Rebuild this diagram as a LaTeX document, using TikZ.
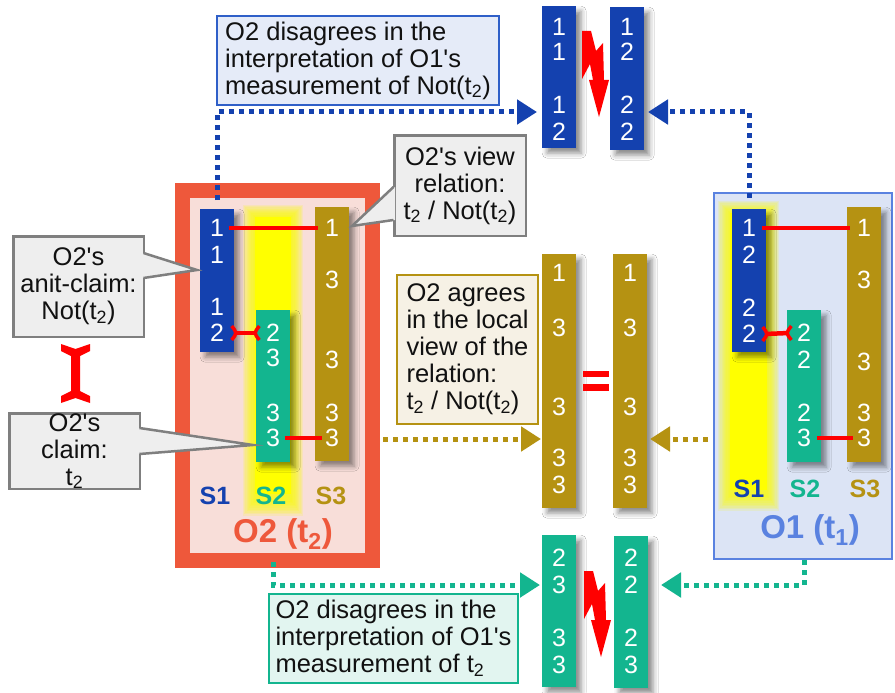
\documentclass[tikz,border=0pt]{standalone}
\usepackage{fontspec}
\setmainfont{Liberation Sans}
\usetikzlibrary{arrows.meta,shadows.blur}
\definecolor{cblue}{HTML}{1441AF}
\definecolor{cteal}{HTML}{13B58F}
\definecolor{cgold}{HTML}{B59212}
\definecolor{o2red}{HTML}{EE583B}
\definecolor{o2pink}{HTML}{F8DED9}
\definecolor{o1fill}{HTML}{DCE4F5}
\definecolor{o1line}{HTML}{5A82E0}
\definecolor{bluebox}{HTML}{E5EBF8}
\definecolor{blueboxline}{HTML}{2F5FC8}
\definecolor{tealbox}{HTML}{E2F5F0}
\definecolor{goldbox}{HTML}{F6F1E5}
\definecolor{graybox}{HTML}{EEEEEE}
\definecolor{grayline}{HTML}{7F7F7F}
\definecolor{cred}{HTML}{FF0000}
\definecolor{cyellow}{HTML}{FFFF00}
\definecolor{txtc}{HTML}{111111}
\newcommand\tsub[1]{\textsubscript{#1}}
\newcommand\aq{\textquotesingle}
\newcommand\colnums[3]{\foreach \yy/\dd [count=\k] in {#3} {\node[digit] (#1d\k) at (#2,\yy) {\dd};}}
\newcommand\brline[2]{%
  \draw[redline] (#1) -- (#2);
  \draw[bracketmark] ([shift={(-2.5,-7)}]#1) .. controls ([shift={(3,0)}]#1) .. ([shift={(-2.5,7)}]#1);
  \draw[bracketmark] ([shift={(2.5,-7)}]#2) .. controls ([shift={(-3,0)}]#2) .. ([shift={(2.5,7)}]#2);}
\tikzset{
  col/.style={anchor=north west, inner sep=0pt, minimum width=34pt, fill=#1,
    blur shadow={shadow xshift=5pt, shadow yshift=-5pt, shadow blur radius=5pt, shadow opacity=45}},
  digit/.style={text=white, font=\fontsize{25}{25}\selectfont, inner sep=0pt},
  box/.style={anchor=north west, inner sep=0pt, line width=2pt, font=\fontsize{25.5}{27}\selectfont, text=txtc},
  redline/.style={draw=cred, line width=4.5pt},
  bracketmark/.style={draw=cred, line width=3.5pt},
  dotline/.style={line width=5pt, dash pattern=on 5pt off 5pt, -{Triangle[length=20pt,width=24pt]}},
  slabel/.style={anchor=base, font=\fontsize{25}{25}\selectfont\bfseries, inner sep=0pt},
  olabel/.style={anchor=base, font=\fontsize{33}{33}\selectfont\bfseries, inner sep=0pt},
}
\begin{document}
\begin{tikzpicture}[x=1pt,y=-1pt]
\useasboundingbox (0,0) rectangle (895,693);
\fill[white] (0,0) rectangle (895,693);

% observer boxes
\node[draw=o2red, line width=15pt, fill=o2pink, minimum width=190pt, minimum height=370pt, anchor=north west, inner sep=0pt] (o2) at (175,183) {};
\node[draw=o1line, line width=2pt, fill=o1fill, minimum width=178pt, minimum height=366pt, anchor=north west, inner sep=0pt] (o1) at (713,192) {};

% yellow glows
\foreach \k in {1,...,10} {
  \fill[cyellow, opacity=0.14] (255-1.2*\k, 217-1.2*\k) rectangle (291+1.2*\k, 500+1.6*\k);
  \fill[cyellow, opacity=0.14] (730-1.2*\k, 213-1.2*\k) rectangle (767+1.2*\k, 495+1.6*\k);
}
\fill[cyellow] (255,217) rectangle (291,494);
\fill[cyellow] (730,213) rectangle (767,490);

% O2 columns
\node[col=cblue, minimum height=143pt] (o2s1) at (200,209) {};
\node[col=cteal, minimum height=152pt] (o2s2) at (256,310) {};
\node[col=cgold, minimum height=254pt] (o2s3) at (315,207) {};
\colnums{o2s1}{217}{228/1,255/1,307/1,333/2}
\colnums{o2s2}{273}{333/2,358/3,413/3,438/3}
\colnums{o2s3}{332}{228/1,280/3,360/3,413/3,438/3}

% O1 columns
\node[col=cblue, minimum height=143pt] (o1s1) at (732,209) {};
\node[col=cteal, minimum height=152pt] (o1s2) at (787,310) {};
\node[col=cgold, minimum height=255pt] (o1s3) at (847,207) {};
\colnums{o1s1}{749}{228/1,255/2,308/2,334/2}
\colnums{o1s2}{804}{333/2,360/2,413/2,438/3}
\colnums{o1s3}{864}{228/1,280/3,362/3,413/3,438/3}

% comparison columns
\node[col=cblue, minimum height=142pt] (tl) at (542,6) {};
\node[col=cblue, minimum height=143pt] (tr) at (610,7) {};
\colnums{tl}{559}{27/1,52/1,105/1,132/2}
\colnums{tr}{627}{27/1,52/2,105/2,132/2}
\node[col=cgold, minimum height=254pt] (ml) at (542,254) {};
\node[col=cgold, minimum height=254pt] (mr) at (613,254) {};
\colnums{ml}{559}{273/1,328/3,407/3,458/3,485/3}
\colnums{mr}{630}{273/1,328/3,407/3,458/3,485/3}
\node[col=cteal, minimum height=152pt] (bl) at (542,535) {};
\node[col=cteal, minimum height=152pt] (br) at (614,536) {};
\colnums{bl}{559}{558/2,585/3,638/3,665/3}
\colnums{br}{631}{558/2,585/2,638/2,665/3}

% red relation lines
\draw[redline] ([xshift=5pt]o2s1d1.east) -- ([xshift=-7pt]o2s3d1.west);
\coordinate (o2ba) at ([xshift=10pt]o2s1d4.east);
\coordinate (o2bb) at ([xshift=-9pt]o2s2d1.west);
\brline{o2ba}{o2bb}
\draw[redline] ([xshift=5pt]o2s2d4.east) -- ([xshift=-3pt]o2s3d5.west);
\draw[redline] ([xshift=6pt]o1s1d1.east) -- ([xshift=-7pt]o1s3d1.west);
\coordinate (o1ba) at ([xshift=9pt]o1s1d4.east);
\coordinate (o1bb) at ([xshift=-8pt]o1s2d1.west);
\brline{o1ba}{o1bb}
\draw[redline] ([xshift=6pt]o1s2d4.east) -- ([xshift=-4pt]o1s3d5.west);

% labels
\node[slabel, text=cblue] (o2l1) at (215,504) {S1};
\node[slabel, text=cteal] (o2l2) at (271,504) {S2};
\node[slabel, text=cgold] (o2l3) at (331,504) {S3};
\node[olabel, text=o2red] (o2name) at (283,542) {O2 (t\tsub{2})};
\node[slabel, text=cblue] (o1l1) at (749,497) {S1};
\node[slabel, text=cteal] (o1l2) at (805,497) {S2};
\node[slabel, text=cgold] (o1l3) at (865,497) {S3};
\node[olabel, text=o1line] (o1name) at (810,538) {O1 (t\tsub{1})};

% conflict / equality signs
\fill[cred] (582,31) -- (591,31) -- (596,51) -- (603,43) -- (604,80) -- (609,80) -- (599,117) -- (589,80) -- (593,80) -- (590,64) -- (582,79) -- cycle;
\begin{scope}[shift={(2,540)}]
\fill[cred] (582,31) -- (591,31) -- (596,51) -- (603,43) -- (604,80) -- (609,80) -- (599,117) -- (589,80) -- (593,80) -- (590,64) -- (582,79) -- cycle;
\end{scope}
\fill[cred] (583,371) rectangle (609,377);
\fill[cred] (583,384) rectangle (609,391);

% callouts
\node[box, draw=blueboxline, fill=bluebox, minimum width=282pt, minimum height=89pt, align=left] (cb) at (216,15) {O2 disagrees in the\\interpretation of O1\aq s\\measurement of Not(t\tsub{2})};
\node[box, draw=cteal, fill=tealbox, minimum width=249pt, minimum height=89pt, align=left] (ct) at (268,593) {O2 disagrees in the\\interpretation of O1\aq s\\measurement of t\tsub{2}};
\node[box, draw=cgold, fill=goldbox, minimum width=141pt, minimum height=149pt, align=left] (cg) at (396,274) {O2 agrees\\in the local\\view of the\\relation:\\t\tsub{2} / Not(t\tsub{2})};

\node[box, draw=grayline, line width=2.5pt, fill=graybox, minimum width=131.5pt, minimum height=100.5pt, align=center] (cv) at (393,134) {O2\aq s view\\relation:\\t\tsub{2} / Not(t\tsub{2})};
\fill[graybox] (395,187) -- (352,226) -- (395,220) -- cycle;
\draw[grayline, line width=2.5pt] (393.5,187) -- (352,226) -- (393.5,220);

\node[box, draw=grayline, line width=2.5pt, fill=graybox, minimum width=130.5pt, minimum height=100.5pt, align=center] (cac) at (12,235) {O2\aq s\\anit-claim:\\Not(t\tsub{2})};
\fill[graybox] (142,253) -- (197,270) -- (142,278) -- cycle;
\draw[grayline, line width=2.5pt] (143.5,253) -- (197,270) -- (143.5,278);

\node[box, draw=grayline, line width=2.5pt, fill=graybox, minimum width=130.5pt, minimum height=73.5pt, align=center] (cc) at (8,412) {O2\aq s\\claim:\\t\tsub{2}};
\fill[graybox] (138,428) -- (253,445) -- (138,454) -- cycle;
\draw[grayline, line width=2.5pt] (139.5,428) -- (253,445) -- (139.5,454);

% contradiction between claim and anti-claim
\fill[cred] (61,344) -- (75.5,349) -- (90,344) -- (90,351) -- (80,356) -- (80,391) -- (90,396) -- (90,403) -- (75.5,398) -- (61,403) -- (61,396) -- (71,391) -- (71,356) -- (61,351) -- cycle;

% dotted arrows
\coordinate (bTipL) at (537,112);
\coordinate (bTipR) at (648,112);
\draw[dotline, cblue] ([yshift=9pt]o2s1.north) |- (bTipL);
\draw[dotline, cblue] ([yshift=11pt]o1s1.north) |- (bTipR);
\coordinate (gTipL) at (541,439);
\coordinate (gTipR) at (650,439);
\draw[dotline, cgold, shorten <=3pt] (o2.east |- gTipL) -- (gTipL);
\draw[dotline, cgold, shorten <=5pt] (o1.west |- gTipR) -- (gTipR);
\coordinate (tTipL) at (540,585);
\coordinate (tTipR) at (661,585);
\draw[dotline, cteal, shorten <=-6pt] (o2s2 |- o2.south) |- (tTipL);
\draw[dotline, cteal] (o1s2 |- o1.south) |- (tTipR);
\end{tikzpicture}
\end{document}
